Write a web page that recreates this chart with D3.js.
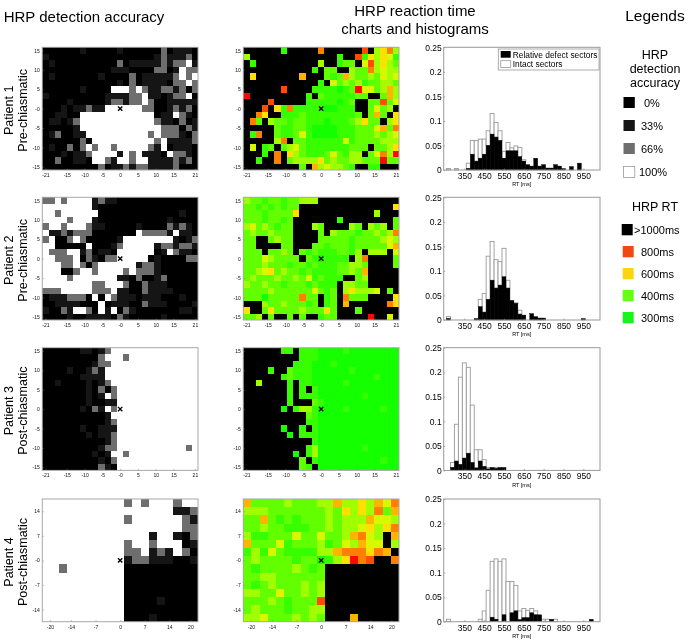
<!DOCTYPE html>
<html>
<head>
<meta charset="utf-8">
<title>HRP charts</title>
<script src="https://d3js.org/d3.v7.min.js"></script>
<style>
  html, body { margin: 0; padding: 0; background: #fff; }
  svg { display: block; font-family: "Liberation Sans", Arial, sans-serif; filter: blur(0.4px); }
</style>
</head>
<body>
<svg id="chart" width="689" height="641"></svg>
<script>
// accuracy rows: 0 = 0%, 1 = 33%, 2 = 66%, 3 = 100%
const acc1 = [
  "0000001000001000000201110",
  "1000000000000000001211120",
  "0100000000002011111212231",
  "0000000000011100002201322",
  "0100000001000020111112323",
  "0000000000001020111102232",
  "0000001000033323211221202",
  "1000000000111122311012230",
  "0000100000122122320011111",
  "0001011211333333220012120",
  "0011003333333333330113210",
  "0110123333333333332110201",
  "0000013333333333333222021",
  "0120011333333333323222102",
  "0000002033333333332311112",
  "0100202323323333321301110",
  "0001011233331323111032210",
  "0020011033213323311112120",
  "0000000002011212211112000"
];
const acc2 = [
  "2232333312110000000000000",
  "3333333310000000000000000",
  "3323333330000000000000100",
  "3333233310000000000010000",
  "2332333211000001000021210",
  "3112122200000003222213110",
  "2300232000001333333331012",
  "3300000300012333331221221",
  "3222331201103333330132110",
  "3322230210223333301000022",
  "3332232023333331221000000",
  "3330023323333232221000000",
  "3333233333331102001200000",
  "3333333322333200211100000",
  "2223333322231100211110000",
  "0111222030321110111000100",
  "0011110003011100211100001",
  "1002133203130210000000110",
  "0000100111102100000100000"
];
const acc3 = [
  "0000001101233333333333333",
  "0000000002333233333333333",
  "0000000012233333333333333",
  "0000100121333333333333333",
  "0000001111333333333333333",
  "0010000101233333333333333",
  "0000000102023333333333333",
  "0000000101323333333333333",
  "0000000100113333333333333",
  "0000001021323333333333333",
  "0000000000133333333333333",
  "0000000000123333333333333",
  "0000001001113333333333333",
  "0000000101123333333333333",
  "0000000000123333333333333",
  "0000000001223333333333323",
  "0000000010133233333333333",
  "0000000001023333333333333",
  "0000000002103333333333333"
];
const acc4 = [
  "3333333333232333233",
  "3333333333333333112",
  "3333333333233333321",
  "3333333333333333322",
  "3333333333333133102",
  "3333333333233233301",
  "3333333333223121320",
  "3333333333122111001",
  "3323333333000000000",
  "3333333333000000000",
  "3333333333000000000",
  "3333333333000000000",
  "3333333333000010000",
  "3333333333000000000",
  "3333333333000100000"
];
// RT rows: k = over 1000 ms, digits index into rtLevels
const rt1 = [
  "kkkkkk1kkkkk7kkkkkk8k3573",
  "3kkkkkkkkkkkkkk1kk8153541",
  "k1kkkkkkkkkk3kk122k483532",
  "kkkkkkkkkkk1k22kk32273433",
  "k5kkkkkkk6kkk212632232434",
  "kkkkkkkkkkkk1k42323122332",
  "kkkkkk8kkkk11110129442363",
  "9kkkkkkkkk1k21111122kk263",
  "kkkk8kkkkk11111012kk22824",
  "kkk8k5171111100111kk2423k",
  "kk75kk1112111111112k262k5",
  "k72k322122111011123522k35",
  "kkkkk21122100001112224627",
  "k17kk21124100001112223234",
  "kkkkk37k22111111412222333",
  "k4k12k23421111111222k2235",
  "kkk1k7k532111242133k24739",
  "kk1kk7k233335232233222922",
  "kkkkkkkkk2k6343321kk11kkk"
];
const rt2 = [
  "322122122333kkkkkkkkkkkkk",
  "221212122kkkkkkkkkkkkkkk5",
  "222122225kkkkkkkkkkkk3kkk",
  "22212212kkkkkkk1kkkkkkkk2",
  "34232122kkk32kkkk32k323k2",
  "23223222kkkk2k32221223237",
  "22kk2322kkkk2222212222343",
  "22kkkk22kkk22122212222246",
  "222k2232k2121112213k333k4",
  "222432222k2101111k37kkkk2",
  "22232221221211122332kkkk2",
  "22345232212111122326kkkkk",
  "2322232232412111kk23kkkkk",
  "322322122212111k3322kkkkk",
  "222232222224212k353334k2k",
  "222022222722k12k7222kkkk5",
  "kkk322322212k12k6kkkkkk75",
  "5kk252222322252kkk2kkkkkk",
  "223k2kk2k2kk122kkkkk9kk4k"
];
const rt3 = [
  "kkkkkk11k1110000100000000",
  "kkkkkkkkk1110000000000000",
  "kkkkkkkk11100010000000000",
  "kkkk1kk211100000010000000",
  "kkkkkk1211100000000001000",
  "kk3kkkk1k1100000100000000",
  "kkkkkkk1k1k10000000000000",
  "kkkkkkk1k1110000000100000",
  "kkkkkkk1kkk21000000000000",
  "kkkkkk0k13310000100000100",
  "kkkkkkkkkk210000000000000",
  "kkkkkkkkkk110000000000000",
  "kkkkkk0kk1k10000000000000",
  "kkkkkkk0k1110000000000000",
  "kkkkkkkkkkk10000000000000",
  "kkkkkkkkkk130000000100000",
  "kkkkkkkk0k130000000000000",
  "kkkkkkkkk2k10000000000100",
  "kkkkkkkkk21k0000000000000"
];
const rt4 = [
  "6222232223363353647",
  "3332222222325353726",
  "2262121222323336443",
  "2232211122323345357",
  "31122242242236743k6",
  "62224122231243644k3",
  "131421111336777576k",
  "2322221220135978kk7",
  "2122223212kkkkkkkkk",
  "2233222222kkkkkkkkk",
  "2123222323kkkkkkkkk",
  "3322422323kkkkkkkkk",
  "2223212228kkkkkkkkk",
  "2322212233kkkkkkkkk",
  "3342223232kkk6kkkkk"
];

const accLevels = [0, 33, 66, 100];
const rtLevels = [300, 340, 380, 430, 480, 530, 580, 650, 720, 800];

const patients = ["Patient 1", "Patient 2", "Patient 3", "Patient 4"];
const lesions = ["Pre-chiasmatic", "Pre-chiasmatic", "Post-chiasmatic", "Post-chiasmatic"];

const xTicks21 = [-21, -15, -10, -5, 0, 5, 10, 15, 21];
const yTicks15 = [15, 10, 5, 0, -5, -10, -15];
const xTicks20 = [-20, -14, -7, 0, 7, 14, 20];
const yTicks14 = [14, 7, 0, -7, -14];
const zeroLabelX = ["0", "-0", "-0", "0"];
const zeroLabelY = ["-0", "0", "0", "-0"];

// histogram bins (ms, bin centre) and fractions
const rtBins = [270,290,310,330,350,370,390,410,430,450,470,490,510,530,550,570,590,610,630,650,670,690,710,730,750,770,790,810,830,850,870,890,910,930,950,970,990,1010];
const defect1 = [0,0,0,0,0,.003,.032,.018,.024,.032,.05,.073,.067,.06,.024,.039,.039,.039,.027,.018,.011,.008,.024,.008,.011,.004,.004,.011,.008,.003,0,.007,0,.014,0,0,0,0];
const intact1 = [.003,0,.003,0,0,.011,.028,.042,.039,.031,.03,.042,.03,.02,.014,.017,.006,.01,.019,.003,0,0,0,0,0,0,0,0,0,0,0,0,0,0,0,0,0,0];
const defect2 = [.003,0,0,0,0,0,0,.003,.027,.016,.042,.081,.065,.071,.088,.065,.04,.034,.012,.01,0,.013,.007,.004,.004,0,0,0,0,0,0,0,0,0,.003,0,0,0];
const intact2 = [.004,0,0,0,0,0,0,0,.015,.038,.088,.079,.058,.048,.058,.016,0,.001,.008,0,0,0,0,0,0,0,0,0,0,0,0,0,0,0,0,0,0,0];
const defect3 = [0,.006,.019,.012,.025,.035,.016,.005,.019,.008,.003,.006,.004,.006,.006,0,0,0,0,0,0,0,0,0,0,0,0,0,0,0,0,0,0,0,0,0,0,0];
const intact3 = [0,.01,.075,.178,.194,.175,.117,.037,.023,.014,.003,0,.002,0,0,0,0,0,0,0,0,0,0,0,0,0,0,0,0,0,0,0,0,0,0,0,0,0];
const defect4 = [0,0,0,0,0,0,0,0,0,0,0,.009,.005,0,.014,0,.018,.022,.004,.008,.008,.018,.014,.014,0,0,.005,0,0,0,0,0,0,0,0,0,.005,0];
const intact4 = [.005,0,0,0,0,0,0,0,.005,.022,.064,.114,.123,.123,.114,.082,.064,.052,.018,.019,.015,.009,.008,0,.005,.005,0,.005,0,0,0,0,0,0,0,0,0,0];
const histX = [350, 450, 550, 650, 750, 850, 950];
const histY = [0, 0.05, 0.1, 0.15, 0.2, 0.25];

const legendAcc = ["0%", "33%", "66%", "100%"];
const legendRt = [">1000ms", "800ms", "600ms", "400ms", "300ms"];

const accColor = d3.scaleOrdinal().domain(accLevels).range(["#000000", "#151515", "#6e6e6e", "#ffffff"]);
const rtColor = d3.scaleLinear()
  .domain(rtLevels)
  .range(["#14ff00", "#38ff00", "#62ff00", "#a0ff00", "#d8f800", "#ffe000", "#ffb400", "#ff8000", "#ff4c00", "#ff0800"]);

const svg = d3.select("#chart");

const rowTop = [47.3, 197.3, 347.7, 499];
const rowH = 122.7;
const colLeft = [42.3, 243.3];
const colW = 155.7;
const histLeft = 443.7, histW = 156.3;

function drawHeat(left, top, rows, fill, xTickVals, yTickVals, halfX, halfY, zeroX, zeroY) {
  const g = svg.append("g").attr("transform", `translate(${left},${top})`);
  const nCols = rows[0].length, nRows = rows.length;
  const xBand = d3.scaleBand().domain(d3.range(nCols)).range([0, colW]);
  const yBand = d3.scaleBand().domain(d3.range(nRows)).range([0, rowH]);
  const x = d3.scaleLinear().domain([-halfX, halfX]).range([0, colW]);
  const y = d3.scaleLinear().domain([-halfY, halfY]).range([rowH, 0]);

  const cells = [];
  rows.forEach((row, r) => row.split("").forEach((ch, c) => cells.push({r, c, ch})));
  g.selectAll("rect.cell").data(cells).join("rect")
    .attr("class", "cell")
    .attr("x", d => xBand(d.c))
    .attr("y", d => yBand(d.r))
    .attr("width", xBand.bandwidth())
    .attr("height", yBand.bandwidth())
    .attr("shape-rendering", "crispEdges")
    .attr("fill", d => fill(d.ch));

  const xAxis = g.append("g").attr("transform", `translate(0,${rowH})`)
    .call(d3.axisBottom(x).tickValues(xTickVals).tickFormat(d => (d === 0 ? zeroX : String(d))).tickSizeInner(-1.5).tickSizeOuter(0).tickPadding(3.5));
  const yAxis = g.append("g")
    .call(d3.axisLeft(y).tickValues(yTickVals).tickFormat(d => (d === 0 ? zeroY : String(d))).tickSizeInner(-1.5).tickSizeOuter(0).tickPadding(2.5));
  [xAxis, yAxis].forEach(a => {
    a.select(".domain").remove();
    a.selectAll("line").attr("stroke", "#777").attr("stroke-width", 0.5);
    a.selectAll("text").attr("font-size", 5).attr("font-family", "Liberation Sans").attr("fill", "#111");
  });

  g.append("rect").attr("width", colW).attr("height", rowH)
    .attr("fill", "none").attr("stroke", "#a8a8a8").attr("stroke-width", 1);

  // fixation mark
  g.append("path")
    .attr("transform", `translate(${x(0)},${y(0)})`)
    .attr("d", d3.symbol().type(d3.symbolTimes).size(14)())
    .attr("fill", "none").attr("stroke", "#000").attr("stroke-width", 1.4);
}

function drawHist(top, defect, intact) {
  const g = svg.append("g").attr("transform", `translate(${histLeft},${top})`);
  const x = d3.scaleLinear().domain([246, 1034]).range([0, histW]);
  const y = d3.scaleLinear().domain([0, 0.25]).range([rowH, 0]);
  const barW = x(20) - x(0);
  const bars = rtBins.map((b, i) => ({b, d: defect[i], i: intact[i]}));

  g.selectAll("rect.intact").data(bars.filter(d => d.i > 0)).join("rect")
    .attr("class", "intact")
    .attr("x", d => x(d.b) - barW / 2)
    .attr("y", d => y(d.d + d.i))
    .attr("width", barW)
    .attr("height", d => y(d.d) - y(d.d + d.i))
    .attr("fill", "#fff").attr("stroke", "#9a9a9a").attr("stroke-width", 0.9);
  g.selectAll("rect.defect").data(bars.filter(d => d.d > 0)).join("rect")
    .attr("class", "defect")
    .attr("x", d => x(d.b) - barW / 2)
    .attr("y", d => y(d.d))
    .attr("width", barW)
    .attr("height", d => y(0) - y(d.d))
    .attr("fill", "#000").attr("stroke", "#000").attr("stroke-width", 0.4);

  const xAxis = g.append("g").attr("transform", `translate(0,${rowH})`)
    .call(d3.axisBottom(x).tickValues(histX).tickSizeInner(-1.5).tickSizeOuter(0).tickPadding(2.8));
  const yAxis = g.append("g")
    .call(d3.axisLeft(y).tickValues(histY).tickFormat(d => String(d)).tickSizeInner(-1.5).tickSizeOuter(0).tickPadding(2));
  [xAxis, yAxis].forEach(a => {
    a.select(".domain").remove();
    a.selectAll("line").attr("stroke", "#666").attr("stroke-width", 0.6);
    a.selectAll("text").attr("font-size", 8.5).attr("font-family", "Liberation Sans").attr("fill", "#000");
  });

  g.append("rect").attr("width", histW).attr("height", rowH)
    .attr("fill", "none").attr("stroke", "#999").attr("stroke-width", 1);

  g.append("text").attr("x", 78).attr("y", rowH + 16.4)
    .attr("text-anchor", "middle").attr("font-size", 5.5).attr("fill", "#000").text("RT [ms]");
}

const accFill = ch => accColor(accLevels[+ch]);
const rtFill = ch => (ch === "k" ? "#000" : rtColor(rtLevels[+ch]));

const accGrids = [acc1, acc2, acc3, acc4];
const rtGrids = [rt1, rt2, rt3, rt4];
const defects = [defect1, defect2, defect3, defect4];
const intacts = [intact1, intact2, intact3, intact4];

patients.forEach((p, i) => {
  const big = i < 3;
  // panels 1-3: 1.75 x 1.667 deg cells, panel 4: 2.33 deg cells
  const halfX = big ? 21.875 : 22.17;
  const halfY = big ? 15.83 : 17.5;
  const xt = big ? xTicks21 : xTicks20;
  const yt = big ? yTicks15 : yTicks14;
  drawHeat(colLeft[0], rowTop[i], accGrids[i], accFill, xt, yt, halfX, halfY, zeroLabelX[i], zeroLabelY[i]);
  drawHeat(colLeft[1], rowTop[i], rtGrids[i], rtFill, xt, yt, halfX, halfY, zeroLabelX[i], zeroLabelY[i]);
  drawHist(rowTop[i], defects[i], intacts[i]);

  const cy = rowTop[i] + 63;
  svg.append("text").attr("transform", `translate(12.8,${cy}) rotate(-90)`)
    .attr("text-anchor", "middle").attr("font-size", 12.5).attr("fill", "#000").text(p);
  svg.append("text").attr("transform", `translate(26.5,${cy}) rotate(-90)`)
    .attr("text-anchor", "middle").attr("font-size", 12.5).attr("fill", "#000").text(lesions[i]);
});

// legend inside first histogram
const hl = svg.append("g");
hl.append("rect").attr("x", 498.3).attr("y", 49).attr("width", 100.7).attr("height", 21)
  .attr("fill", "#fff").attr("stroke", "#999").attr("stroke-width", 0.8);
hl.append("rect").attr("x", 500.7).attr("y", 51).attr("width", 10).attr("height", 6.7).attr("fill", "#000");
hl.append("rect").attr("x", 500.7).attr("y", 60.7).attr("width", 10).attr("height", 6.7)
  .attr("fill", "#fff").attr("stroke", "#999").attr("stroke-width", 0.8);
hl.append("text").attr("x", 512.7).attr("y", 58).attr("font-size", 8.4).text("Relative defect sectors");
hl.append("text").attr("x", 512.7).attr("y", 67.3).attr("font-size", 8.4).text("Intact sectors");

// titles
const title = (x, y, s, size, anchor) => svg.append("text").attr("x", x).attr("y", y)
  .attr("font-size", size).attr("text-anchor", anchor || "middle").attr("fill", "#000").text(s);
title(84, 22, "HRP detection accuracy", 15);
title(415, 15.5, "HRP reaction time", 15);
title(415, 33.5, "charts and histograms", 15);
title(655, 21, "Legends", 15.5);

title(655, 58.5, "HRP", 12.5);
title(655, 72.5, "detection", 12.5);
title(655, 86.5, "accuracy", 12.5);
title(655, 210.5, "HRP RT", 12.5);

// colour keys
const accKeyY = [97, 120, 143, 166.5];
const accKeyX = [644, 641, 641, 639];
legendAcc.forEach((s, i) => {
  svg.append("rect").attr("x", 623.5).attr("y", accKeyY[i]).attr("width", 11.3).attr("height", 11)
    .attr("fill", accColor(accLevels[i]))
    .attr("stroke", i === 3 ? "#999" : "none").attr("stroke-width", 0.8);
  title(accKeyX[i], accKeyY[i] + 9.5, s, 11, "start");
});
const rtKeyY = [224, 246, 268, 290, 312];
const rtKeyX = [634, 641, 641, 641, 641];
const rtKeyLeft = [621.7, 622.7, 622.7, 622.7, 622.7];
const rtKeyColor = ["#000000", "#f04812", "#fcd60c", "#64ff14", "#18f518"];
legendRt.forEach((s, i) => {
  svg.append("rect").attr("x", rtKeyLeft[i]).attr("y", rtKeyY[i]).attr("width", 11).attr("height", 11.3)
    .attr("fill", rtKeyColor[i]);
  title(rtKeyX[i], rtKeyY[i] + 9.5, s, 11, "start");
});
</script>
</body>
</html>
